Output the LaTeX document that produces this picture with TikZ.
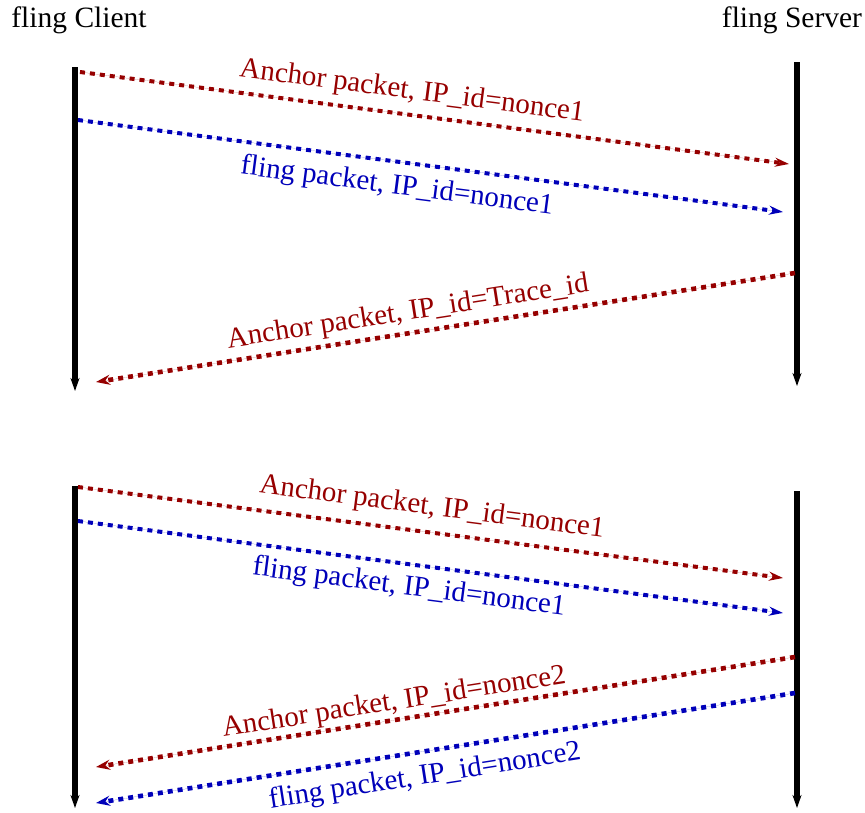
\documentclass[tikz,border=0pt]{standalone}
\usepackage{fontspec}
\setmainfont{Liberation Serif}
\usetikzlibrary{arrows.meta}
\definecolor{fred}{RGB}{150,0,0}
\definecolor{fblue}{RGB}{0,0,185}
\tikzset{
  lifeline/.style={line width=6pt,-{Stealth[length=13pt,width=9pt]}},
  msg/.style={line width=4pt,dash pattern=on 5pt off 5pt,-{Stealth[length=14pt,width=9pt]}},
  msgthick/.style={line width=4.6pt,dash pattern=on 5pt off 5pt,-{Stealth[length=14pt,width=10pt]}},
  lbl/.style={font=\fontsize{29}{33}\selectfont,inner sep=0pt},
  hdr/.style={font=\fontsize{29.5}{33}\selectfont,inner sep=0pt}
}
\begin{document}
\begin{tikzpicture}[x=1pt,y=-1pt]
\useasboundingbox (0,0) rectangle (865,812);
\node[hdr] (client) at (79,20) {fling Client};
\node[hdr] (server) at (792,20) {fling Server};
% lifelines
\coordinate (c1t) at (75,67);  \coordinate (c1b) at (75,391);
\coordinate (s1t) at (797,62); \coordinate (s1b) at (797,386);
\coordinate (c2t) at (75,486); \coordinate (c2b) at (75,808);
\coordinate (s2t) at (797,491);\coordinate (s2b) at (797,808);
\draw[lifeline] (c1t) -- (c1b);
\draw[lifeline] (s1t) -- (s1b);
\draw[lifeline] (c2t) -- (c2b);
\draw[lifeline] (s2t) -- (s2b);
% top messages
\coordinate (a1s) at (80,72);   \coordinate (a1e) at (789,164);
\coordinate (b1s) at (78,120);  \coordinate (b1e) at (783,212);
\coordinate (r1s) at (795,273); \coordinate (r1e) at (96,382);
\draw[msg,draw=fred,fill=fred] (a1s) -- (a1e);
\draw[msg,draw=fblue,fill=fblue] (b1s) -- (b1e);
\draw[msgthick,draw=fred,fill=fred] (r1s) -- (r1e);
\node[lbl,text=fred,rotate=-7.4] (la1) at (412,92) {Anchor packet, IP\_id=nonce1};
\node[lbl,text=fblue,rotate=-7.4] (lb1) at (397,187) {fling packet, IP\_id=nonce1};
\node[lbl,text=fred,rotate=8.9] (lr1) at (408,313) {Anchor packet, IP\_id=Trace\_id};
% bottom messages
\coordinate (a2s) at (78,487);  \coordinate (a2e) at (783,578);
\coordinate (b2s) at (78,521);  \coordinate (b2e) at (783,613);
\coordinate (r2s) at (795,657); \coordinate (r2e) at (96,767);
\coordinate (q2s) at (795,693); \coordinate (q2e) at (96,803);
\draw[msg,draw=fred,fill=fred] (a2s) -- (a2e);
\draw[msg,draw=fblue,fill=fblue] (b2s) -- (b2e);
\draw[msgthick,draw=fred,fill=fred] (r2s) -- (r2e);
\draw[msgthick,draw=fblue,fill=fblue] (q2s) -- (q2e);
\node[lbl,text=fred,rotate=-7.4] (la2) at (432,508) {Anchor packet, IP\_id=nonce1};
\node[lbl,text=fblue,rotate=-7.4] (lb2) at (409,588) {fling packet, IP\_id=nonce1};
\node[lbl,text=fred,rotate=8.9] (lr2) at (394,703) {Anchor packet, IP\_id=nonce2};
\node[lbl,text=fblue,rotate=8.9] (lq2) at (425,777) {fling packet, IP\_id=nonce2};
\end{tikzpicture}
\end{document}
